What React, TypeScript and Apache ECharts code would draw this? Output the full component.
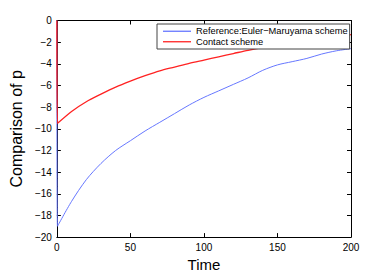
import React, { useEffect, useRef } from "react";
import * as echarts from "echarts";

const times = [0, 10, 20, 30, 40, 50, 60, 70, 80, 90, 100, 110, 120, 130, 140, 150, 160, 170, 180, 190, 200];
const eulerMaruyama = [-19.0, -16.7, -14.7, -13.2, -12.0, -11.1, -10.2, -9.4, -8.6, -7.8, -7.1, -6.5, -5.9, -5.3, -4.6, -4.1, -3.8, -3.5, -3.1, -2.8, -2.6];
const contact = [-9.5, -8.4, -7.5, -6.8, -6.15, -5.6, -5.1, -4.65, -4.3, -3.95, -3.65, -3.35, -3.05, -2.75, -2.5, -2.3, -2.1, -1.9, -1.7, -1.5, -1.3];
const startValue = 0;
const startTime = 0;
const firstStepTime = 0.4;
const seriesNames = ["Reference:Euler\u2212Maruyama scheme", "Contact scheme"];

function build(values: number[]) {
  const pts: [number, number][] = [[startTime, startValue]];
  values.forEach((v, i) => pts.push([i === 0 ? firstStepTime : times[i], v]));
  return pts;
}

export default function App() {
  const ref = useRef<HTMLDivElement>(null);
  useEffect(() => {
    const chart = echarts.init(ref.current!, null, { renderer: "svg" });
    const font = "Liberation Sans, Arial, Helvetica, sans-serif";
    const tick = { show: true, inside: true, length: 4, lineStyle: { color: "#000", width: 1 } };
    const axisLine = { show: true, onZero: false, lineStyle: { color: "#000", width: 1 } };
    chart.setOption({
      animation: false,
      backgroundColor: "#fff",
      grid: { left: 50.5, top: 20.5, right: 37, bottom: 31, containLabel: false },
      legend: {
        left: 157,
        top: 24,
        orient: "vertical",
        itemGap: 0,
        itemWidth: 28,
        itemHeight: 1.3,
        padding: [2, 2, 2, 6],
        borderColor: "#444",
        borderWidth: 1,
        backgroundColor: "#fff",
        textStyle: { fontSize: 9.3, fontFamily: font, color: "#000", lineHeight: 10.5 },
        data: seriesNames.map((n) => ({ name: n, icon: "rect" })),
      },
      xAxis: [
        {
          type: "value", min: 0, max: 200, interval: 50,
          name: "Time", nameLocation: "middle", nameGap: 19,
          nameTextStyle: { fontSize: 15, fontFamily: font, color: "#000" },
          axisLine, axisTick: tick, splitLine: { show: false },
          axisLabel: { fontSize: 10, fontFamily: font, color: "#000", margin: 5 },
        },
        {
          type: "value", min: 0, max: 200, interval: 50, position: "top",
          axisLine, axisTick: tick, splitLine: { show: false }, axisLabel: { show: false },
        },
      ],
      yAxis: [
        {
          type: "value", min: -20, max: 0, interval: 2,
          name: "Comparison of p", nameLocation: "middle", nameGap: 29,
          nameTextStyle: { fontSize: 16, fontFamily: font, color: "#000" },
          axisLine, axisTick: tick, splitLine: { show: false },
          axisLabel: {
            fontSize: 10, fontFamily: font, color: "#000", margin: 5,
            formatter: (v: number) => (v < 0 ? "\u2212" + Math.abs(v) : String(v)),
          },
        },
        {
          type: "value", min: -20, max: 0, interval: 2, position: "right",
          axisLine, axisTick: tick, splitLine: { show: false }, axisLabel: { show: false },
        },
      ],
      series: [
        {
          name: seriesNames[0], type: "line", data: build(eulerMaruyama), smooth: 0.3,
          symbol: "none", lineStyle: { color: "#6677ff", width: 1 }, itemStyle: { color: "#6677ff" },
        },
        {
          name: seriesNames[1], type: "line", data: build(contact), smooth: 0.3,
          symbol: "none", lineStyle: { color: "#ff2222", width: 1.3 }, itemStyle: { color: "#ff2222" },
        },
      ],
    });
    return () => chart.dispose();
  }, []);
  return <div ref={ref} style={{ width: 388, height: 277, position: "absolute", left: 0, top: 0 }} />;
}
